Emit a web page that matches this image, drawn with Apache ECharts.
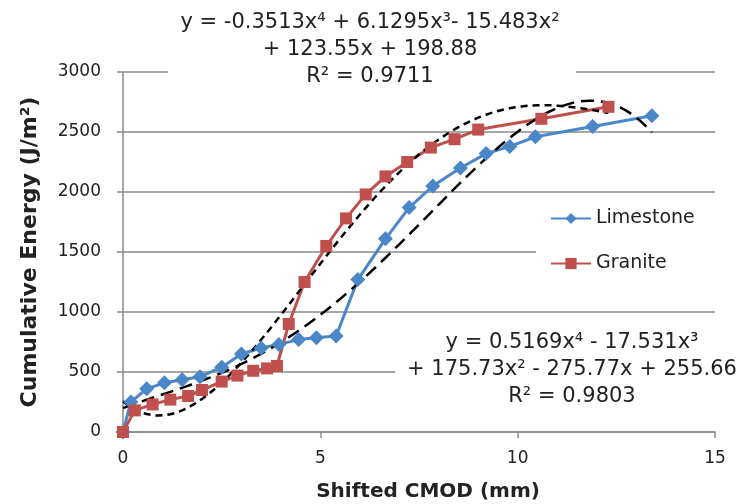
<!DOCTYPE html>
<html>
<head>
<meta charset="utf-8">
<script src="https://cdn.jsdelivr.net/npm/echarts@6/dist/echarts.min.js"></script>
<style>
  html, body { margin: 0; padding: 0; background: #fff; }
  #main { width: 739px; height: 504px; }
</style>
</head>
<body>
<div id="main"></div>
<script>
// shifted CMOD (mm) / cumulative energy (J/m2)
var limestoneCmod   = [0, 0.2, 0.6, 1.05, 1.5, 1.95, 2.5, 3.0, 3.5, 3.95, 4.45, 4.9, 5.4, 5.95, 6.65, 7.25, 7.85, 8.55, 9.2, 9.8, 10.45, 11.9, 13.4];
var limestoneEnergy = [0, 250, 360, 410, 435, 460, 540, 650, 700, 730, 770, 785, 800, 1270, 1610, 1870, 2050, 2200, 2320, 2380, 2460, 2545, 2635];
var graniteCmod     = [0, 0.3, 0.75, 1.2, 1.65, 2.0, 2.5, 2.9, 3.3, 3.65, 3.9, 4.2, 4.6, 5.15, 5.65, 6.15, 6.65, 7.2, 7.8, 8.4, 9.0, 10.6, 12.3];
var graniteEnergy   = [0, 180, 230, 270, 300, 350, 420, 470, 510, 530, 550, 900, 1250, 1550, 1780, 1980, 2130, 2250, 2370, 2440, 2520, 2610, 2710];

// trendline coefficients as printed (x^4 .. x^0)
var trendTopCoef    = [-0.3513, 6.1295, -15.483, 123.55, 198.88];
var trendBottomCoef = [0.5169, -17.531, 175.73, -275.77, 255.66];
var trendTopText    = 'y = -0.3513x⁴ + 6.1295x³- 15.483x²\n+ 123.55x + 198.88\nR² = 0.9711';
var trendBottomText = 'y = 0.5169x⁴ - 17.531x³\n+ 175.73x² - 275.77x + 255.66\nR² = 0.9803';

var FONT = 'DejaVu Sans';

function pairs(xs, ys) {
  return xs.map(function (x, i) { return [x, ys[i]]; });
}

function poly(coef, xEnd) {
  var out = [];
  for (var i = 0; i <= Math.round(xEnd * 10); i++) {
    var x = i / 10, y = 0;
    coef.forEach(function (c) { y = y * x + c; });
    out.push([x, y]);
  }
  return out;
}

var chart = echarts.init(document.getElementById('main'));

var grey = '#8a8a8a';

var option = {
  backgroundColor: '#fff',
  animation: false,
  textStyle: { fontFamily: FONT },
  grid: { left: 123, right: 24, top: 72, bottom: 72 },
  xAxis: {
    type: 'value', min: 0, max: 15, interval: 5,
    axisLine: { lineStyle: { color: grey, width: 1.5 } },
    axisTick: { show: true, length: 6, lineStyle: { color: grey, width: 1.5 } },
    axisLabel: { color: '#222', fontSize: 17, margin: 18, fontFamily: FONT },
    splitLine: { show: false }
  },
  yAxis: {
    type: 'value', min: 0, max: 3000, interval: 500,
    axisLine: { show: true, lineStyle: { color: grey, width: 1.5 } },
    axisTick: { show: true, length: 6, lineStyle: { color: grey, width: 1.5 } },
    axisLabel: { color: '#222', fontSize: 17, margin: 22, fontFamily: FONT, formatter: function (v) { return String(v); } },
    splitLine: { show: true, lineStyle: { color: grey, width: 1.5 } }
  },
  legend: {
    orient: 'vertical',
    left: 545, top: 204,
    itemWidth: 40, itemHeight: 14, itemGap: 26,
    textStyle: { fontSize: 19, color: '#222', fontFamily: FONT },
    data: ['Limestone', 'Granite']
  },
  graphic: [
    { type: 'rect', z: 1, shape: { x: 168, y: 4, width: 408, height: 88 }, style: { fill: '#fff' } },
    { type: 'rect', z: 1, shape: { x: 395, y: 326, width: 344, height: 88 }, style: { fill: '#fff' } },
    { type: 'rect', z: 1, shape: { x: 536, y: 198, width: 203, height: 92 }, style: { fill: '#fff' } },
    {
      type: 'text', z: 5, x: 370, y: 50,
      style: { text: trendTopText, font: '21px "DejaVu Sans"', fill: '#222', align: 'center', verticalAlign: 'middle', lineHeight: 27 }
    },
    {
      type: 'text', z: 5, x: 572, y: 370,
      style: { text: trendBottomText, font: '21px "DejaVu Sans"', fill: '#222', align: 'center', verticalAlign: 'middle', lineHeight: 27 }
    },
    {
      type: 'text', z: 5, x: 30, y: 252, rotation: Math.PI / 2,
      style: { text: 'Cumulative Energy (J/m²)', font: 'bold 22px "DejaVu Sans"', fill: '#222', align: 'center', verticalAlign: 'middle' }
    },
    {
      type: 'text', z: 5, x: 428, y: 492,
      style: { text: 'Shifted CMOD (mm)', font: 'bold 20px "DejaVu Sans"', fill: '#222', align: 'center', verticalAlign: 'middle' }
    }
  ],
  series: [
    {
      name: 'Limestone', type: 'line', data: pairs(limestoneCmod, limestoneEnergy),
      symbol: 'diamond', symbolSize: 15,
      lineStyle: { color: '#4a86c8', width: 3 },
      itemStyle: { color: '#4a86c8' }
    },
    {
      name: 'Granite', type: 'line', data: pairs(graniteCmod, graniteEnergy),
      symbol: 'rect', symbolSize: 12,
      lineStyle: { color: '#c0504d', width: 3 },
      itemStyle: { color: '#c0504d' }
    },
    {
      name: 'trendTop', type: 'line', data: poly(trendTopCoef, limestoneCmod[limestoneCmod.length - 1]),
      showSymbol: false, smooth: false,
      lineStyle: { color: '#000', width: 2.5, type: [13, 7] }
    },
    {
      name: 'trendBottom', type: 'line', data: poly(trendBottomCoef, graniteCmod[graniteCmod.length - 1]),
      showSymbol: false, smooth: false,
      lineStyle: { color: '#000', width: 2.5, type: [7, 5] }
    }
  ]
};

chart.setOption(option);
</script>
</body>
</html>
